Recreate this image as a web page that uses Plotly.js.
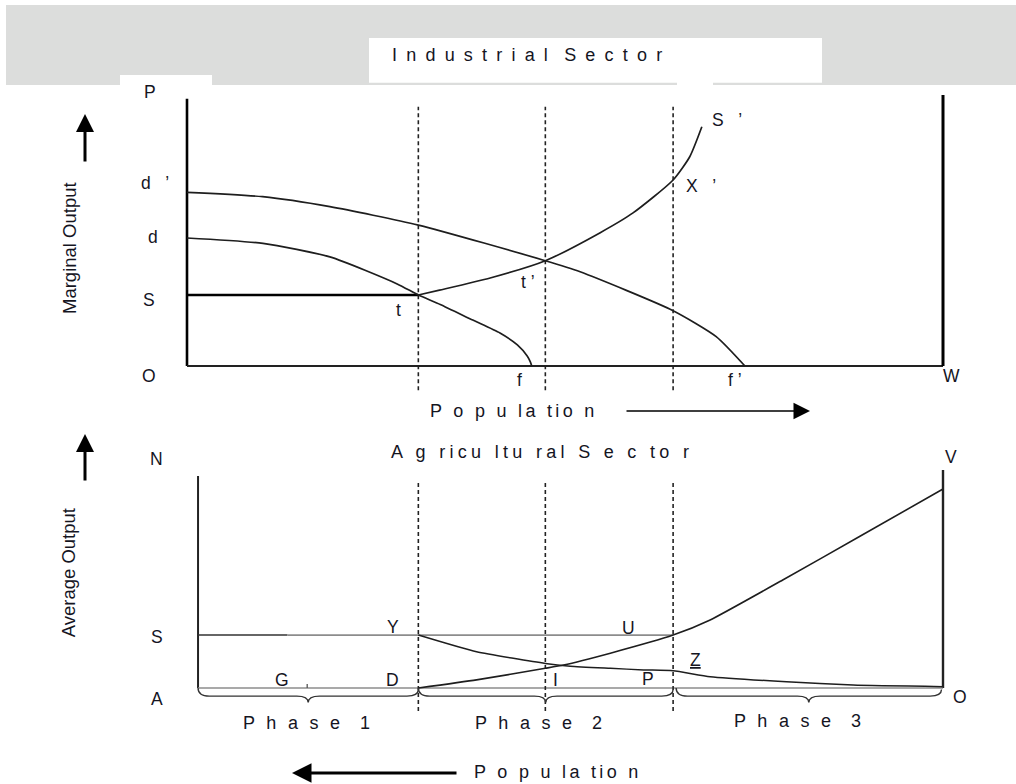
<!DOCTYPE html>
<html><head><meta charset="utf-8">
<script src="https://cdn.plot.ly/plotly-3.0.1.min.js"></script>
<style>body{margin:0;background:#fff;overflow:hidden}#chart{width:1016px;height:784px}</style>
</head><body><div id="chart"></div>
<script>
// ================= DATA =================
// vertical dashed guides (x in population units, O=0 .. W=100)
const guideX = [30.6, 47.4, 64.3];

// ---- Industrial sector (top panel): marginal output ----
const dX      = [0, 10.05, 18.9, 27.8, 30.6, 33.5, 37.8, 41.4, 43.7, 45.0, 45.4, 45.6];
const dY      = [47.4, 45.4, 40.4, 30.4, 26.3, 22.8, 17.0, 12.2, 7.8, 3.7, 1.6, 0];
const dPrimeX = [0, 10, 18.9, 30.6, 47.4, 52, 64.3, 70, 73.8];
const dPrimeY = [64.3, 62.7, 59, 52.2, 39, 34.9, 20.5, 10.9, 0];
const wageX   = [0, 30.6];
const wageY   = [26.3, 26.3];
const supplyX = [30.6, 33.4, 40.1, 47.4, 54.6, 59, 64.3, 66.5, 68.1];
const supplyY = [26.3, 28.1, 32.6, 39, 49.3, 56.7, 68.9, 77.5, 88.6];
const topAxisTop = 99, topRightTop = 100.4;

// ---- Agricultural sector (bottom panel): average output ----
const agLeftX = 1.46, agRightX = 100;
const agSLevel = 19.6;
const agSplitX = 13.3;           // where the S line turns grey
const descX = [30.6, 38.3, 47.4, 50.7, 56, 60.4, 64.3, 69.2, 79.3, 88.1, 100];
const descY = [19.6, 13.4, 9.1, 8.1, 7.3, 6.7, 6.4, 4.2, 2.3, 1.1, 0.5];
const ascX  = [30.6, 38.3, 47.4, 49.8, 56, 64.3, 69.2, 78.8, 88.9, 100];
const ascY  = [0, 3.0, 7.3, 8.5, 12.9, 19.6, 25.2, 40, 56, 73.7];
const agLeftTop = 78.5, agRightTop = 80.7;
const gTickX = 15.9;
const braceX = [[agLeftX, 30.6], [30.6, 64.3], [64.7, 99.8]];

// ---- texts ----
const topTitle = 'I n d u s t r i a l  S e c t o r';
const bottomTitle = 'A g ricu ltu ral S e c to r';
const popText = 'P o p u la tio n';
const topYTitle = 'Marginal Output';
const bottomYTitle = 'Average Output';
const phaseText = ['P h a s e  1', 'P h a s e  2', 'P h a s e  3'];
const topLabelText = ['P', 'd\u00a0\u00a0\u00a0’', 'd', 'S', 'O', 't', 'f', 't\u00a0’', 'S\u00a0\u00a0\u00a0’', 'X\u00a0\u00a0\u00a0’', 'f\u00a0’', 'W'];
const bottomLabelText = ['N', 'V', 'S', 'A', 'Y', 'U', 'D', 'G', 'I', 'P', '<u>Z</u>', 'O'];

// ================= LAYOUT HELPERS =================
const W = 1016, H = 784;
const PX = v => v / W, PY = v => 1 - v / H;
const topLabelPos = [[150,92],[155,183],[152.7,237],[149.3,300],[149.3,376],[398.5,310],[519.3,379.5],[528,282],[727,120],[701,186],[735,380],[951.7,376]];
const bottomLabelPos = [[156.7,459],[951,457],[157.3,637],[156.7,699],[393,627],[628.3,628],[392,680],[282,680],[555,680],[648.3,679],[695,660],[960,697]];
const phasePos = [[308,723],[540,723],[799,721]];

const INK = '#15151f';
const FONT = 'Liberation Sans, Arial, sans-serif';

function line(x, y, yax, color, width, extra) {
  return Object.assign({
    x: x, y: y, xaxis: 'x', yaxis: yax, type: 'scatter', mode: 'lines',
    line: {color: color, width: width}, hoverinfo: 'skip', showlegend: false
  }, extra || {});
}
const dashed = {color: '#222', width: 1.6, dash: '4px,3px'};
const curve = (w, s) => ({line: {color: '#1e1e1e', width: w, shape: 'spline', smoothing: s}});

const traces = [];
// top panel
traces.push(line([0, 0], [0, topAxisTop], 'y', '#000', 2.6));
traces.push(line([0, 100], [0, 0], 'y', '#222', 2));
traces.push(line([100, 100], [0, topRightTop], 'y', '#000', 3));
guideX.forEach(g => traces.push(line([g, g], [-9, 96], 'y', '#222', 1.6, {line: dashed})));
traces.push(line(wageX, wageY, 'y', '#000', 2.6));
traces.push(line(dX, dY, 'y', '#1e1e1e', 1.7, curve(1.7, 0.6)));
traces.push(line(dPrimeX, dPrimeY, 'y', '#1e1e1e', 1.7, curve(1.7, 0.6)));
traces.push(line(supplyX, supplyY, 'y', '#1e1e1e', 1.7, curve(1.7, 0.6)));

// bottom panel
traces.push(line([agLeftX, agLeftX], [0, agLeftTop], 'y2', '#222', 2));
traces.push(line([agRightX, agRightX], [0, agRightTop], 'y2', '#222', 2.4));
traces.push(line([agLeftX, agRightX], [0, 0], 'y2', '#8c8c8c', 1.6));
traces.push(line([agLeftX, agSplitX], [agSLevel, agSLevel], 'y2', '#333', 1.5));
traces.push(line([agSplitX, guideX[2]], [agSLevel, agSLevel], 'y2', '#8c8c8c', 1.6));
guideX.forEach(g => traces.push(line([g, g], [-8.5, 77], 'y2', '#222', 1.6, {line: dashed})));
traces.push(line(descX, descY, 'y2', '#1e1e1e', 1.5, curve(1.5, 0.5)));
traces.push(line(ascX, ascY, 'y2', '#1e1e1e', 1.6, curve(1.6, 0.5)));
traces.push(line([gTickX, gTickX], [0, 1.5], 'y2', '#555', 1.3));

// braces built from phase bounds
function bracePath(a, b) {
  const m = (a + b) / 2, base = -3, dip = -5.4, r = 1.5;
  return `M ${a},0 Q ${a},${base} ${a + r},${base} L ${m - r},${base} Q ${m},${base} ${m},${dip} ` +
         `Q ${m},${base} ${m + r},${base} L ${b - r},${base} Q ${b},${base} ${b},-0.6`;
}

const shapes = [
  {type: 'rect', xref: 'paper', yref: 'paper', x0: PX(6), x1: 1, y0: PY(85), y1: PY(5), fillcolor: '#dcdddc', line: {width: 0}, layer: 'below'},
  {type: 'rect', xref: 'paper', yref: 'paper', x0: PX(369), x1: PX(822), y0: PY(82.7), y1: PY(38), fillcolor: '#ffffff', line: {width: 0}, layer: 'below'},
  {type: 'rect', xref: 'paper', yref: 'paper', x0: PX(120), x1: PX(212), y0: PY(85.5), y1: PY(75), fillcolor: '#ffffff', line: {width: 0}, layer: 'below'},
  {type: 'rect', xref: 'paper', yref: 'paper', x0: PX(677), x1: PX(713), y0: PY(85.5), y1: PY(82), fillcolor: '#ffffff', line: {width: 0}, layer: 'below'}
];
braceX.forEach(([a, b]) => shapes.push({type: 'path', xref: 'x', yref: 'y2', path: bracePath(a, b), line: {color: '#333', width: 1.4}}));

function txt(text, p, size, extra) {
  return Object.assign({xref: 'paper', yref: 'paper', x: PX(p[0]), y: PY(p[1]), text: text, showarrow: false,
    xanchor: 'center', yanchor: 'middle', font: {family: FONT, size: size || 17.5, color: INK}}, extra || {});
}
function spaced(t, ls) { return `<span style="letter-spacing:${ls}px">${t}</span>`; }
function arrow(head, dx, dy, width, size) {
  return {xref: 'paper', yref: 'paper', x: PX(head[0]), y: PY(head[1]), ax: dx, ay: dy, axref: 'pixel', ayref: 'pixel',
    text: '', showarrow: true, arrowhead: 2, arrowsize: size, arrowwidth: width, arrowcolor: '#000', standoff: 0, startstandoff: 0};
}

const annotations = [];
topLabelText.forEach((t, i) => annotations.push(txt(t, topLabelPos[i], 17.5)));
bottomLabelText.forEach((t, i) => annotations.push(txt(t, bottomLabelPos[i], 17.5)));
phaseText.forEach((t, i) => annotations.push(txt(spaced(t.replace(/  /g, ' \u00a0'), 3.3), phasePos[i], 18)));
annotations.push(txt(spaced(topTitle.replace(/  /g, ' \u00a0'), 2.1), [528, 55], 18));
annotations.push(txt(spaced(bottomTitle, 4.3), [542, 452], 18));
annotations.push(txt(spaced(popText, 3.3), [514, 411], 18));
annotations.push(txt(spaced(popText, 3.3), [558, 772], 18));
annotations.push(txt(topYTitle, [69, 248], 18.5, {textangle: -90}));
annotations.push(txt(bottomYTitle, [68.3, 573], 18.5, {textangle: -90}));
annotations.push(arrow([85, 114], 0, 49, 3, 1.2));
annotations.push(arrow([85, 434], 0, 48, 3, 1.2));
annotations.push(arrow([810, 411], -185, 0, 1.5, 2.2));
annotations.push(arrow([292, 773], 166, 0, 3, 1.3));

const layout = {
  width: W, height: H, autosize: false,
  margin: {l: 0, r: 0, t: 0, b: 0, pad: 0},
  paper_bgcolor: '#ffffff', plot_bgcolor: 'rgba(0,0,0,0)',
  font: {family: FONT, color: INK},
  showlegend: false,
  xaxis: {domain: [149.2 / W, 980.8 / W], range: [-5, 105], visible: false, fixedrange: true},
  yaxis: {domain: [PY(398.4), PY(79.8)], range: [-12, 106], visible: false, fixedrange: true, anchor: 'x'},
  yaxis2: {domain: [PY(720.4), PY(461.2)], range: [-12, 84], visible: false, fixedrange: true, anchor: 'x'},
  shapes: shapes,
  annotations: annotations
};

Plotly.newPlot('chart', traces, layout, {staticPlot: true, displayModeBar: false});
</script>
</body></html>
